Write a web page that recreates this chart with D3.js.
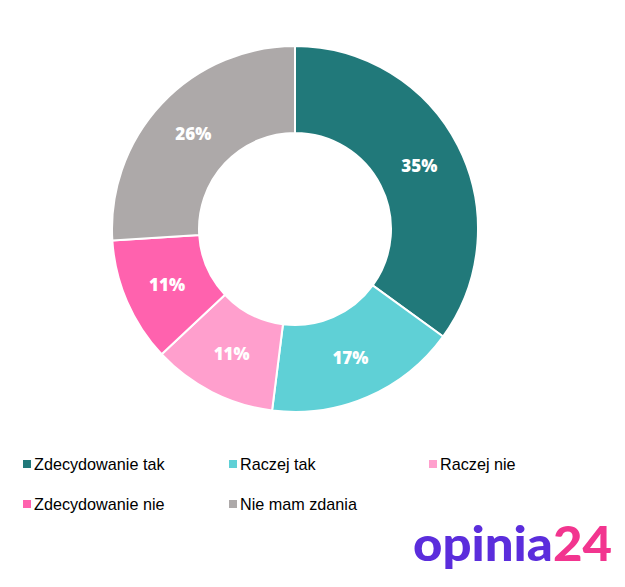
<!DOCTYPE html>
<html>
<head>
<meta charset="utf-8">
<script src="https://cdn.jsdelivr.net/npm/d3@7"></script>
<style>
  html, body { margin: 0; padding: 0; background: #fff; }
  svg { display: block; }
</style>
</head>
<body>
<script>
const categories = ["Zdecydowanie tak", "Raczej tak", "Raczej nie", "Zdecydowanie nie", "Nie mam zdania"];
const values = [35, 17, 11, 11, 26];
const colors = ["#21797A", "#5FD0D6", "#FF9FCD", "#FF62AE", "#ADA9A9"];

const W = 625, H = 587;
const cx = 295, cy = 229, rOuter = 183, rInner = 96;

const svg = d3.select("body").append("svg").attr("width", W).attr("height", H);

const pie = d3.pie().sort(null).value(d => d)(values);
const arc = d3.arc().innerRadius(rInner).outerRadius(rOuter);

const g = svg.append("g").attr("transform", `translate(${cx},${cy})`);
g.selectAll("path").data(pie).join("path")
  .attr("d", arc)
  .attr("fill", (d, i) => colors[i])
  .attr("stroke", "#fff")
  .attr("stroke-width", 2);

g.selectAll("text").data(pie).join("text")
  .attr("transform", d => `translate(${arc.centroid(d)})`)
  .attr("text-anchor", "middle")
  .attr("dominant-baseline", "central")
  .attr("fill", "#fff")
  .attr("font-family", "'Open Sans', sans-serif")
  .attr("font-weight", 800)
  .attr("font-size", 17)
  .text(d => d.data + "%");

// legend
const legendX = [23, 229, 429];
const legendY = [464, 504];
const lg = svg.append("g");
categories.forEach((c, i) => {
  const x = legendX[i % 3], y = legendY[Math.floor(i / 3)];
  lg.append("rect").attr("x", x).attr("y", y - 4).attr("width", 8).attr("height", 8).attr("fill", colors[i]);
  lg.append("text").attr("x", x + 11).attr("y", y)
    .attr("dominant-baseline", "central")
    .attr("font-family", "'Liberation Sans', Arial, sans-serif")
    .attr("font-size", 16.2)
    .attr("fill", "#000")
    .text(c);
});

// logo
const logo = svg.append("text").attr("x", 413).attr("y", 561)
  .attr("font-family", "Lato, sans-serif")
  .attr("font-weight", 900)
  .attr("font-size", 47)
  .attr("textLength", 199)
  .attr("lengthAdjust", "spacingAndGlyphs");
logo.append("tspan").attr("fill", "#5B2DDC").text("opinia");
logo.append("tspan").attr("fill", "#F2358F").text("24");
</script>
</body>
</html>
